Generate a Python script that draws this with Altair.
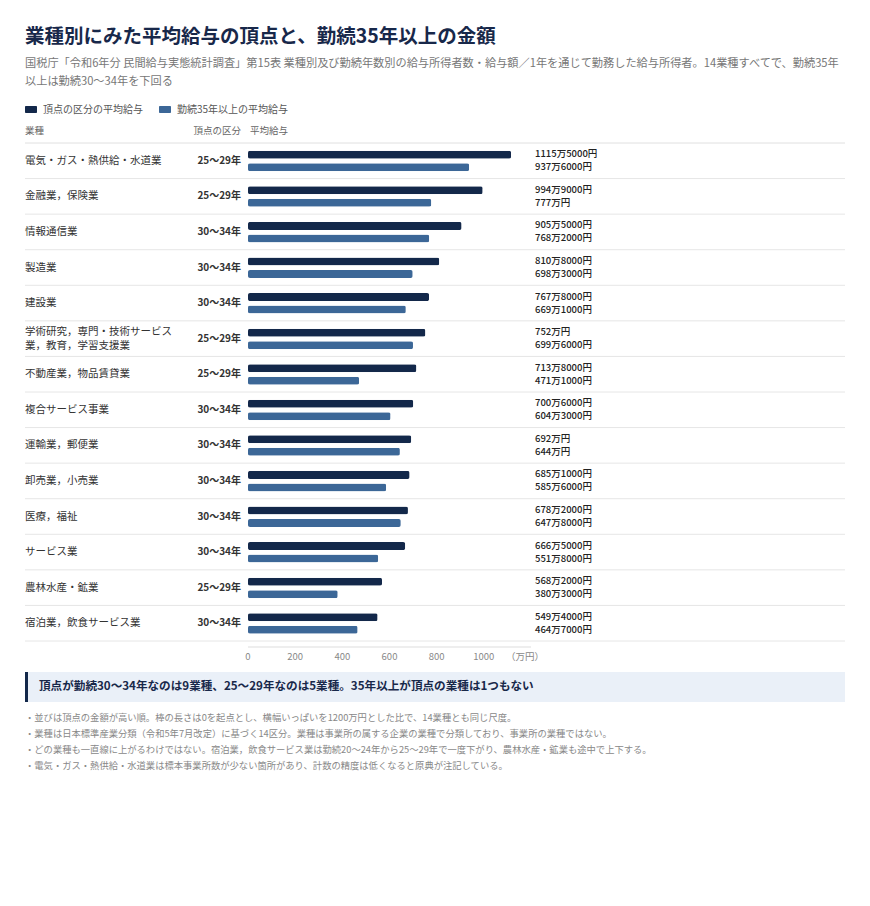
import altair as alt
import pandas as pd

# ---------------- data ----------------
industries = [
    "電気・ガス・熱供給・水道業",
    "金融業，保険業",
    "情報通信業",
    "製造業",
    "建設業",
    "学術研究，専門・技術サービス\n業，教育，学習支援業",
    "不動産業，物品賃貸業",
    "複合サービス事業",
    "運輸業，郵便業",
    "卸売業，小売業",
    "医療，福祉",
    "サービス業",
    "農林水産・鉱業",
    "宿泊業，飲食サービス業",
]
peak_period = [
    "25～29年", "25～29年", "30～34年", "30～34年", "30～34年", "25～29年", "25～29年",
    "30～34年", "30～34年", "30～34年", "30～34年", "30～34年", "25～29年", "30～34年",
]
# 万円
peak_salary = [1115.5, 994.9, 905.5, 810.8, 767.8, 752.0, 713.8, 700.6, 692.0, 685.1, 678.2, 666.5, 568.2, 549.4]
senior_salary = [937.6, 777.0, 768.2, 698.3, 669.1, 699.6, 471.1, 604.3, 644.0, 585.6, 647.8, 551.8, 380.3, 464.7]
axis_ticks = [0, 200, 400, 600, 800, 1000]

title_text = "業種別にみた平均給与の頂点と、勤続35年以上の金額"
subtitle_text = ("国税庁「令和6年分 民間給与実態統計調査」第15表 業種別及び勤続年数別の給与所得者数・給与額／1年を通じて勤務した給与所得者。14業種すべてで、勤続35年\n"
                 "以上は勤続30～34年を下回る")
legend_labels = ["頂点の区分の平均給与", "勤続35年以上の平均給与"]
header_labels = ["業種", "頂点の区分", "平均給与"]
unit_label = "（万円）"
callout_text = "頂点が勤続30～34年なのは9業種、25～29年なのは5業種。35年以上が頂点の業種は1つもない"
footnotes = [
    "・並びは頂点の金額が高い順。棒の長さは0を起点とし、横幅いっぱいを1200万円とした比で、14業種とも同じ尺度。",
    "・業種は日本標準産業分類（令和5年7月改定）に基づく14区分。業種は事業所の属する企業の業種で分類しており、事業所の業種ではない。",
    "・どの業種も一直線に上がるわけではない。宿泊業，飲食サービス業は勤続20～24年から25～29年で一度下がり、農林水産・鉱業も途中で上下する。",
    "・電気・ガス・熱供給・水道業は標本事業所数が少ない箇所があり、計数の精度は低くなると原典が注記している。",
]


def fmt_yen(v):
    man = int(v)
    rest = int(round((v - man) * 10000))
    return f"{man}万{rest}円" if rest else f"{man}万円"


df = pd.DataFrame({
    "industry": industries,
    "period": peak_period,
    "peak": peak_salary,
    "senior": senior_salary,
    "peak_label": [fmt_yen(v) for v in peak_salary],
    "senior_label": [fmt_yen(v) for v in senior_salary],
    "idx": list(range(len(industries))),
    "multi": ["\n" in s for s in industries],
})

DARK = "#13284a"
BLUE = "#3c6797"
TITLE = "#18284a"
FONT = "Noto Sans CJK JP"

xscale = alt.Scale(domain=[0, 1200], range=[240, 523], nice=False, zero=True)
yscale = alt.Scale(type="band", domain=industries, range=[135, 633], paddingInner=0, paddingOuter=0)
Y = alt.Y("industry:N", scale=yscale, axis=None, sort=industries)

base = alt.Chart(df)

peak_bars = base.mark_bar(height=8, yOffset=-6, color=DARK, cornerRadius=2).encode(
    x=alt.X("peak:Q", scale=xscale, axis=None), y=Y)
senior_bars = base.mark_bar(height=8, yOffset=6.5, color=BLUE, cornerRadius=2).encode(
    x=alt.X("senior:Q", scale=xscale, axis=None), y=Y)

sep_rules = base.mark_rule(color="#e6e6e6", strokeWidth=1).encode(
    y=alt.Y("industry:N", scale=yscale, axis=None, sort=industries, bandPosition=1),
    x=alt.value(17), x2=alt.value(837))
top_rule = base.transform_filter("datum.idx == 0").mark_rule(color="#e0e0e0", strokeWidth=1).encode(
    y=alt.Y("industry:N", scale=yscale, axis=None, sort=industries, bandPosition=0),
    x=alt.value(17), x2=alt.value(837))

ind_text = base.transform_filter("!datum.multi").mark_text(
    align="left", baseline="middle", fontSize=10.5, color="#333", font=FONT).encode(
    y=Y, x=alt.value(17), text="industry:N")
ind_text_multi = base.transform_filter("datum.multi").mark_text(
    align="left", baseline="middle", fontSize=10.5, color="#333", lineBreak="\n",
    lineHeight=14, dy=-7, font=FONT).encode(
    y=Y, x=alt.value(17), text="industry:N")
period_text = base.mark_text(align="right", baseline="middle", fontSize=10, color="#333",
                             fontWeight="bold", font=FONT).encode(
    y=Y, x=alt.value(233), text="period:N")
peak_val = base.mark_text(align="left", baseline="middle", fontSize=9.5, color="#222",
                          fontWeight=500, yOffset=-6.5, font=FONT).encode(
    y=Y, x=alt.value(527), text="peak_label:N")
senior_val = base.mark_text(align="left", baseline="middle", fontSize=9.5, color="#222",
                            fontWeight=500, yOffset=6.5, font=FONT).encode(
    y=Y, x=alt.value(527), text="senior_label:N")

# axis
tick_df = pd.DataFrame({"tick": axis_ticks})
tick_text = alt.Chart(tick_df).mark_text(baseline="middle", fontSize=9.5, color="#888", font=FONT).encode(
    x=alt.X("tick:Q", scale=xscale, axis=None), y=alt.value(649), text="tick:Q")
axis_line = alt.Chart(pd.DataFrame({"a": [0], "b": [1200]})).mark_rule(color="#dddddd").encode(
    x=alt.X("a:Q", scale=xscale, axis=None), x2="b:Q", y=alt.value(639))
unit_text = alt.Chart(pd.DataFrame({"t": [unit_label]})).mark_text(
    align="left", baseline="middle", fontSize=9.5, color="#888", font=FONT).encode(
    x=alt.value(498), y=alt.value(649), text="t:N")

# titles
title = alt.Chart(pd.DataFrame({"t": [title_text]})).mark_text(
    align="left", baseline="middle", fontSize=19.5, fontWeight="bold", color=TITLE, font=FONT).encode(
    x=alt.value(17), y=alt.value(29), text="t:N")
subtitle = alt.Chart(pd.DataFrame({"t": [subtitle_text]})).mark_text(
    align="left", baseline="middle", fontSize=11.2, color="#777", lineBreak="\n", lineHeight=18, font=FONT).encode(
    x=alt.value(17), y=alt.value(56), text="t:N")

# legend
leg_df = pd.DataFrame({"label": legend_labels, "x0": [17, 151], "col": [DARK, BLUE]})
leg_rect = alt.Chart(leg_df).mark_rect(cornerRadius=1).encode(
    x=alt.X("x0:Q", scale=None), x2=alt.X2("xe:Q"), y=alt.value(98), y2=alt.value(105),
    color=alt.Color("col:N", scale=None)).transform_calculate(xe="datum.x0 + 12")
leg_text = alt.Chart(leg_df).mark_text(align="left", baseline="middle", fontSize=10, color="#555", font=FONT).encode(
    x=alt.X("xt:Q", scale=None), y=alt.value(101.5), text="label:N").transform_calculate(xt="datum.x0 + 18")

# header
hdr_df = pd.DataFrame({"label": header_labels, "hx": [17, 233, 242], "al": ["left", "right", "left"]})
hdr_left = alt.Chart(hdr_df).transform_filter("datum.al != 'right'").mark_text(
    align="left", baseline="middle", fontSize=9.5, color="#666", font=FONT).encode(
    x=alt.X("hx:Q", scale=None), y=alt.value(122.5), text="label:N")
hdr_right = alt.Chart(hdr_df).transform_filter("datum.al == 'right'").mark_text(
    align="right", baseline="middle", fontSize=9.5, color="#666", font=FONT).encode(
    x=alt.X("hx:Q", scale=None), y=alt.value(122.5), text="label:N")

# callout
callout_bg = alt.Chart(pd.DataFrame({"t": [callout_text]})).mark_rect(color="#eaf0f8").encode(
    x=alt.value(17), x2=alt.value(837), y=alt.value(664), y2=alt.value(694))
callout_bar = alt.Chart(pd.DataFrame({"t": [callout_text]})).mark_rect(color=DARK).encode(
    x=alt.value(17), x2=alt.value(20), y=alt.value(664), y2=alt.value(694))
callout = alt.Chart(pd.DataFrame({"t": [callout_text]})).mark_text(
    align="left", baseline="middle", fontSize=11.6, fontWeight="bold", color=TITLE, font=FONT).encode(
    x=alt.value(31), y=alt.value(679), text="t:N")

# footnotes
fn_df = pd.DataFrame({"t": footnotes, "i": list(range(len(footnotes)))})
fn_text = alt.Chart(fn_df).mark_text(align="left", baseline="middle", fontSize=9.3, color="#888", font=FONT).encode(
    x=alt.value(17), y=alt.Y("fy:Q", scale=None), text="t:N").transform_calculate(fy="710 + datum.i * 16")

chart = alt.layer(
    sep_rules, top_rule, peak_bars, senior_bars, ind_text, ind_text_multi, period_text, peak_val, senior_val,
    axis_line, tick_text, unit_text, title, subtitle, leg_rect, leg_text, hdr_left, hdr_right,
    callout_bg, callout_bar, callout, fn_text,
).properties(
    width=854, height=890, autosize="none", padding=0
).configure(font=FONT).configure_view(stroke=None)

chart.save("out.html", embed_options={"renderer": "svg", "actions": False})
